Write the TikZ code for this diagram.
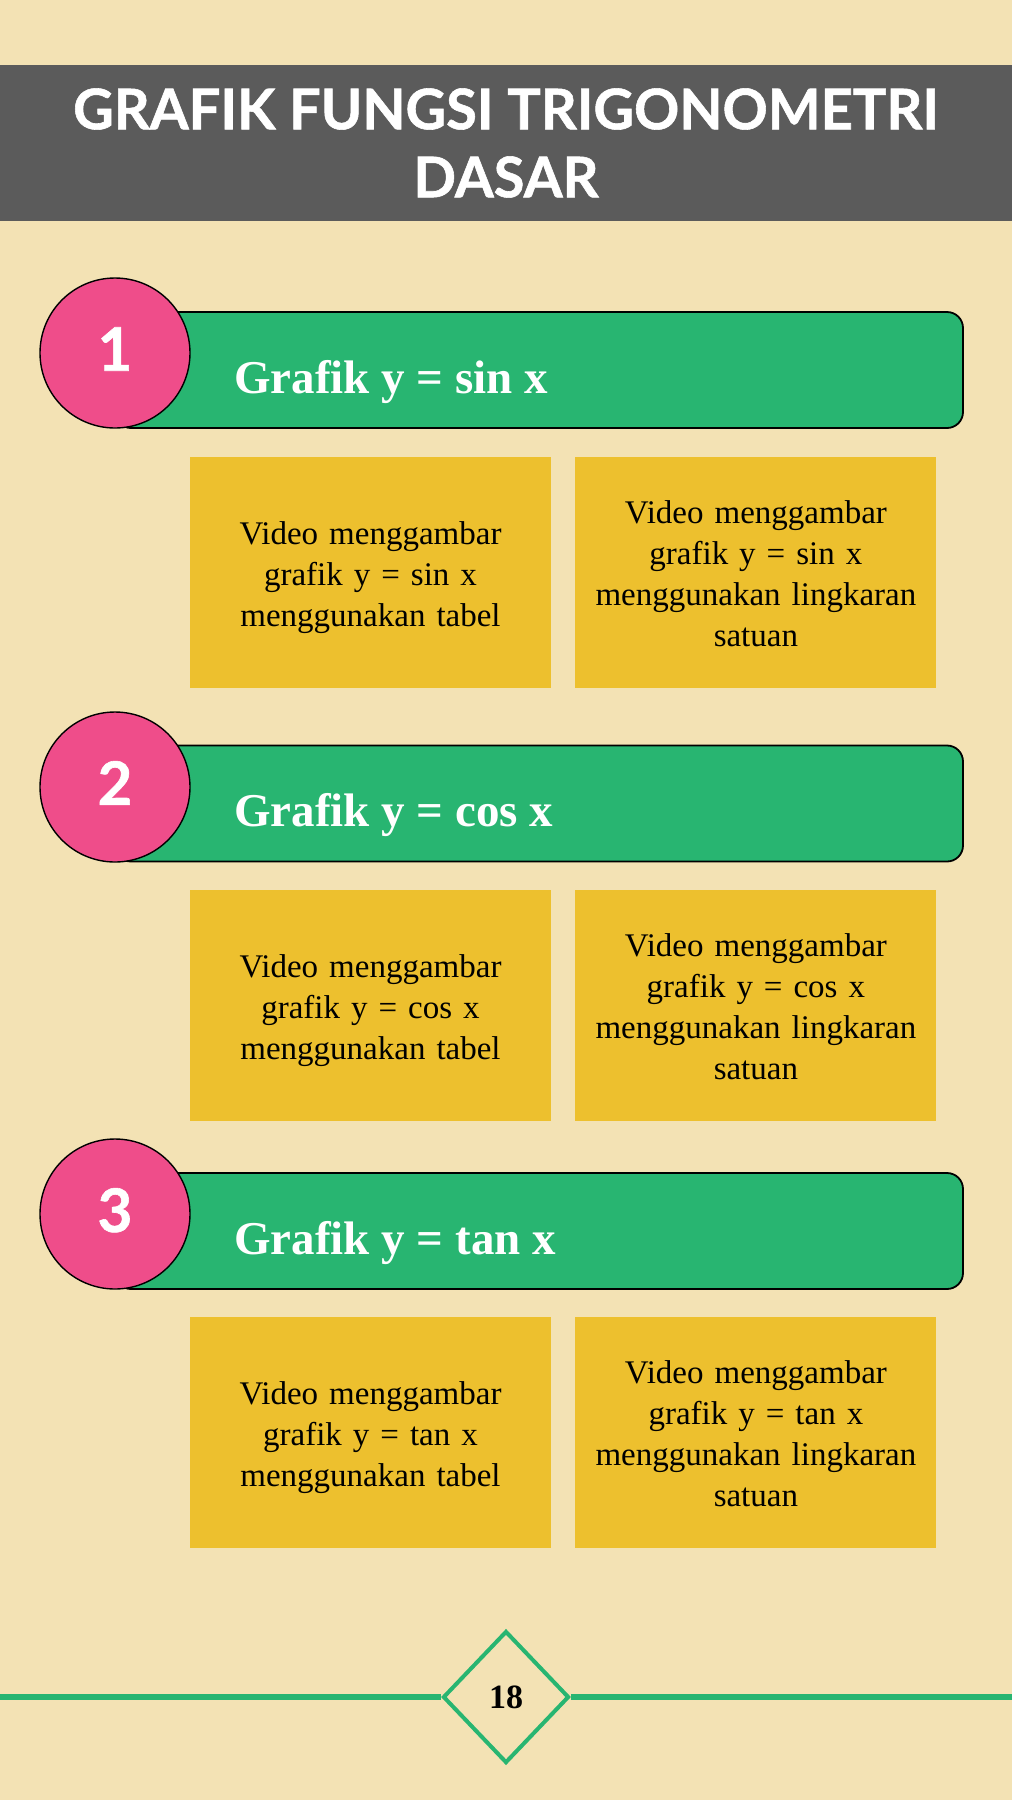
\documentclass[tikz,border=0pt]{standalone}
\usepackage{fontspec}
\usepackage{tikz}
\setmainfont{Liberation Serif}
\newfontfamily\latofont{Lato}[BoldFeatures={FakeBold=1}]
\definecolor{latar}{RGB}{243,226,180}
\definecolor{abu}{RGB}{91,91,91}
\definecolor{hijau}{RGB}{40,181,113}
\definecolor{merah}{RGB}{239,77,138}
\definecolor{kuning}{RGB}{237,192,46}
\usetikzlibrary{shapes,positioning}
\tikzset{header/.style={rectangle, fill=abu, text=white, minimum width=1012pt, minimum height=156pt, align=center,
 font=\latofont\bfseries\fontsize{56}{68}\selectfont}}
\tikzset{bar/.style={rectangle, draw, line width=1.8pt, fill=hijau, rounded corners=16pt, minimum width=848pt, minimum height=116pt}}
\tikzset{bartext/.style={anchor=base west, inner sep=0pt, text=white, font=\bfseries\fontsize{47}{56}\selectfont}}
\tikzset{nomor/.style={circle, draw, line width=1.4pt, fill=merah, minimum size=150pt, inner sep=0pt, text=white, text depth=8pt,
 font=\latofont\bfseries\fontsize{60}{60}\selectfont}}
\tikzset{video/.style={rectangle, fill=kuning, minimum width=361pt, minimum height=231pt, text width=350pt, align=center,
 font=\fontsize{33}{41}\selectfont}}
\tikzset{halaman/.style={diamond, draw=hijau, line width=4pt, fill=latar, minimum width=126pt, minimum height=132pt, inner sep=0pt,
 font=\bfseries\fontsize{34}{40}\selectfont}}
\tikzset{line/.style={draw=hijau, line width=6pt}}
\newcommand{\naik}{\rule{0pt}{34pt}}
\newcommand{\naikkecil}{\rule{0pt}{26pt}}

\begin{document}
\begin{tikzpicture}[x=1pt, y=-1pt]
        \useasboundingbox (0,0) rectangle (1012,1800);
        \fill[latar] (0,0) rectangle (1012,1800);
        \node[header] (judul) at (506,143) {GRAFIK FUNGSI TRIGONOMETRI\\DASAR};

        % grafik sinus
        \node[bar] (sin) at (539,370) {};
        \node[bartext] (sinteks) at (234,393) {Grafik y = sin x};
        \node[nomor] (satu) at (115,353) {1};
        \node[video] (sina) at (370.5,572.5) {\naik Video menggambar\\grafik y = sin x\\menggunakan tabel};
        \node[video, right=24pt of sina] (sinb) {\naikkecil Video menggambar\\grafik y = sin x\\menggunakan lingkaran\\satuan};

        % grafik cosinus
        \node[bar] (cos) at (539,803.5) {};
        \node[bartext] (costeks) at (234,826) {Grafik y = cos x};
        \node[nomor] (dua) at (115,787) {2};
        \node[video] (cosa) at (370.5,1005.5) {\naik Video menggambar\\grafik y = cos x\\menggunakan tabel};
        \node[video, right=24pt of cosa] (cosb) {\naikkecil Video menggambar\\grafik y = cos x\\menggunakan lingkaran\\satuan};

        % grafik tangen
        \node[bar] (tan) at (539,1231) {};
        \node[bartext] (tanteks) at (234,1254) {Grafik y = tan x};
        \node[nomor] (tiga) at (115,1214) {3};
        \node[video] (tana) at (370.5,1432.5) {\naik Video menggambar\\grafik y = tan x\\menggunakan tabel};
        \node[video, right=24pt of tana] (tanb) {\naikkecil Video menggambar\\grafik y = tan x\\menggunakan lingkaran\\satuan};

        % nomor halaman
        \coordinate (kiri) at (0,1697);
        \coordinate (kanan) at (1012,1697);
        \node[halaman] (hal) at (506,1697) {18};
        \path[line] (kiri) -- (hal.west);
        \path[line] (hal.east) -- (kanan);
      \end{tikzpicture}
\end{document}
